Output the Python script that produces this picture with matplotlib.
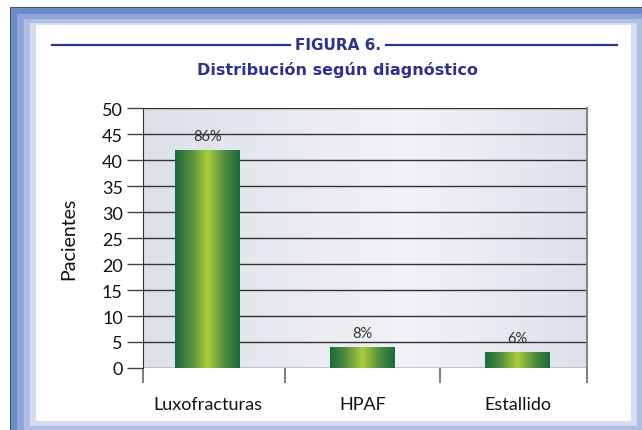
import numpy as np
import matplotlib
matplotlib.use("Agg")
import matplotlib.pyplot as plt
from matplotlib.patches import Rectangle
from matplotlib.lines import Line2D
from matplotlib.colors import LinearSegmentedColormap

# data
categories = ["Luxofracturas", "HPAF", "Estallido"]
pacientes = [42, 4, 3]
porcentajes = ["86%", "8%", "6%"]
y_ticks = list(range(0, 55, 5))

W, H = 642, 431
fig = plt.figure(figsize=(W / 100, H / 100), dpi=100)
fig.patch.set_facecolor("white")


def px_rect(x0, y0, x1, y1, color, **kw):
    # rectangle given in pixel coords, origin top-left
    r = Rectangle((x0 / W, 1 - y1 / H), (x1 - x0) / W, (y1 - y0) / H,
                  transform=fig.transFigure, facecolor=color, edgecolor="none",
                  zorder=-10, **kw)
    fig.patches.append(r)


# blue bevel frame
px_rect(10, 8, 660, 460, "#4d4f57")
px_rect(11, 9, 660, 460, "#6a8ac8")
px_rect(17, 15, 660, 460, "#8ea5d6")
px_rect(24, 20, 642, 431, "#afbfe4")
px_rect(30, 24, 637, 427, "#d5dcef")
px_rect(36, 26, 631, 422, "white")

# title with side rules
navy = "#2e3190"
fig.text(338 / W, 1 - 46 / H, "FIGURA 6.", ha="center", va="center",
         fontsize=11, fontweight="bold", color=navy, family="DejaVu Sans")
fig.text(338 / W, 1 - 70 / H, "Distribución según diagnóstico", ha="center", va="center",
         fontsize=11.5, fontweight="bold", color=navy, family="DejaVu Sans")
for xa, xb in [(52, 290), (386, 617)]:
    fig.lines.append(Line2D([xa / W, xb / W], [1 - 46 / H, 1 - 46 / H],
                            transform=fig.transFigure, color=navy, lw=1.6))

ax = fig.add_axes([143 / W, (H - 369) / H, 444 / W, 260 / H])
ax.set_zorder(5)

# plot area background gradient
bg = LinearSegmentedColormap.from_list("bg", [(0, "#dce0e9"), (0.6, "#f1f2f5"), (1, "#dde1ea")])
ax.imshow(np.linspace(0, 1, 256).reshape(1, -1), cmap=bg, aspect="auto",
          extent=[0, 1, 0, 1], transform=ax.transAxes, zorder=0)

x = np.arange(len(categories))
bars = ax.bar(x, pacientes, width=0.42, facecolor="none", edgecolor="none", zorder=3)

green = LinearSegmentedColormap.from_list(
    "green", [(0, "#1b6a3d"), (0.25, "#558f3e"), (0.5, "#a9cd38"), (0.75, "#558f3e"), (1, "#1b6a3d")])
for b, lab in zip(bars, porcentajes):
    x0, y0 = b.get_x(), b.get_y()
    w, h = b.get_width(), b.get_height()
    im = ax.imshow(np.linspace(0, 1, 256).reshape(1, -1), cmap=green, aspect="auto",
                   extent=[x0, x0 + w, y0, y0 + h], zorder=3)
    im.set_clip_path(b)
    ax.annotate(lab, (x0 + w / 2, y0 + h), xytext=(0, 5), textcoords="offset points",
                ha="center", va="bottom", fontsize=10.5, color="#333333", family="Lato")

ax.set_xlim(-0.42, 2.45)
ax.set_ylim(0, 50)

ax.set_yticks(y_ticks)
ax.yaxis.grid(True, color="#333333", lw=1)
ax.set_axisbelow(True)
for gl in ax.get_ygridlines():
    gl.set_zorder(1)
ax.tick_params(axis="y", length=11.5, width=1, color="#444444", pad=3,
               labelsize=13, labelcolor="#111111")

ax.set_xticks(x)
ax.set_xticklabels(categories)
ax.set_xticks([-0.42, 0.5, 1.5, 2.45], minor=True)
ax.tick_params(axis="x", which="major", length=0, pad=20, labelsize=13, labelcolor="#111111")
ax.tick_params(axis="x", which="minor", length=11, width=1.2, color="#666666")

for lab in ax.get_xticklabels() + ax.get_yticklabels():
    lab.set_family("Lato")

ax.set_ylabel("Pacientes", fontsize=14, family="Lato", color="#111111", labelpad=18)

ax.spines["top"].set_visible(False)
ax.spines["bottom"].set_visible(False)
ax.spines["left"].set_color("#333333")
ax.spines["right"].set_color("#888888")
ax.spines["right"].set_linewidth(1.5)

fig.savefig("out.png", dpi=100)
